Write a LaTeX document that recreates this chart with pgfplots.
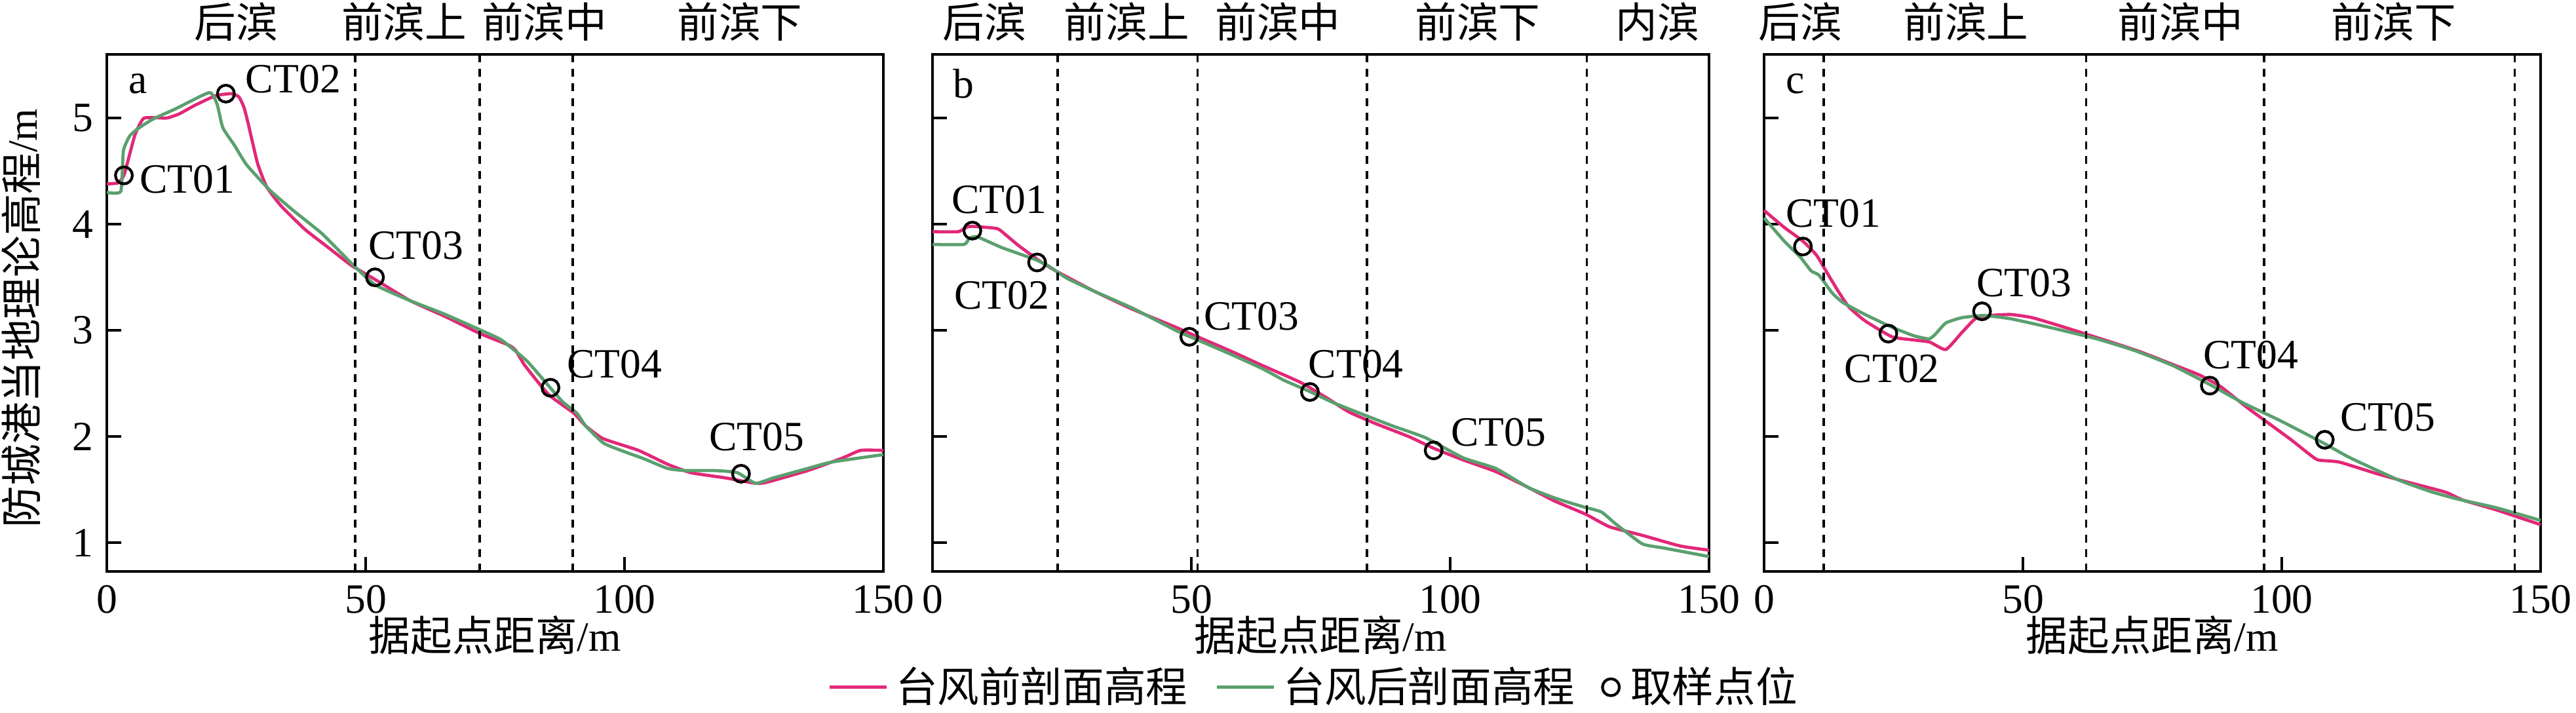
\documentclass[border=0pt]{standalone}
\usepackage{pgfplots}
\pgfplotsset{compat=1.18}
\usepackage{fontspec}
\setmainfont{Liberation Serif}
\newfontfamily\cjk{Noto Sans CJK SC}
\definecolor{cred}{RGB}{226,40,120}
\definecolor{cgreen}{RGB}{90,160,110}
\newcommand{\fs}{\fontsize{10.6}{12}\selectfont}
\tikzset{zone/.style={black, line width=0.6pt, dash pattern=on 2pt off 1.7pt}}
\pgfplotsset{
  panel/.style={
    width=197.5pt, height=131.5pt, scale only axis,
    xmin=0, xmax=150, ymin=0.73, ymax=5.6,
    xtick={0,50,100,150}, ytick={1,2,3,4,5},
    tick pos=left, tick align=inside, major tick length=3.7pt,
    axis line style={line width=0.65pt},
    every tick/.style={black, line width=0.65pt},
    /pgf/number format/assume math mode=true,
    tick label style={font=\fs},
    label style={font=\fs},
    xlabel={{\cjk 据起点距离}/m},
    xlabel style={at={(axis description cs:0.5,-0.124)}, anchor=center},
    clip=false,
  },
  redline/.style={color=cred, line width=0.8pt, smooth, tension=0.3},
  greenline/.style={color=cgreen, line width=0.8pt, smooth, tension=0.3},
  samp/.style={only marks, mark=o, mark size=2.15pt, mark options={line width=0.7pt, black}},
  lineleg/.style={legend image code/.code={\draw[##1] (0pt,0pt) -- (14.5pt,0pt);}},
  markleg/.style={legend image code/.code={\draw[##1] plot coordinates {(2pt,0pt)}; \path[draw=none] (5pt,0pt);}},
}
\begin{document}
\begin{tikzpicture}
% ---------------- panel a ----------------
\begin{axis}[panel, at={(27.17pt,36pt)}, anchor=south west,
  ylabel={{\cjk 防城港当地理论高程}/m},
  ylabel style={at={(axis description cs:-0.1104,0.49)}, anchor=center}]
\addplot[redline] coordinates {(0,4.38) (2.2,4.39) (3.3,4.46) (4.2,4.62) (5.5,4.85) (7.2,5.0) (11.5,5.0) (14,5.04) (17,5.12) (21,5.21) (24,5.23) (25.5,5.2) (26.5,5.1) (27.3,4.95) (28.1,4.78) (29.2,4.56) (30.9,4.35) (33.7,4.17) (38.3,3.95) (42.8,3.78) (47.3,3.61) (51.8,3.48) (58.6,3.28) (65.4,3.13) (72.1,2.97) (77.7,2.86) (79,2.81) (80.6,2.68) (83.5,2.5) (85.7,2.38) (90.2,2.22) (92.5,2.1) (95.9,1.98) (102.7,1.87) (108.3,1.74) (112.8,1.66) (119.6,1.61) (125.3,1.56) (127.5,1.57) (135.4,1.68) (142.2,1.80) (145.6,1.87) (150,1.87)};
\addplot[greenline] coordinates {(0,4.30) (2.7,4.31) (3.2,4.69) (4.4,4.83) (6,4.90) (8.9,4.99) (13.4,5.09) (19.8,5.24) (21.3,5.13) (22.4,4.91) (24.7,4.74) (27,4.56) (31.5,4.32) (36,4.13) (41.6,3.91) (47.3,3.63) (51.8,3.43) (58.6,3.28) (65.4,3.15) (75.5,2.93) (77.8,2.85) (81.2,2.71) (84.6,2.52) (88,2.33) (90.8,2.22) (92.5,2.1) (95.9,1.94) (99.3,1.87) (103.8,1.79) (108.3,1.70) (111.7,1.68) (117.4,1.68) (121.8,1.66) (125.3,1.56) (128.7,1.61) (135.4,1.70) (140,1.76) (150,1.83)};
\addplot[samp] coordinates {(3.3,4.46) (23,5.23) (51.8,3.50) (85.7,2.46) (122.5,1.65)};
\draw[zone] (axis cs:48,0.73) -- (axis cs:48,5.6);
\draw[zone] (axis cs:72,0.73) -- (axis cs:72,5.6);
\draw[zone] (axis cs:90,0.73) -- (axis cs:90,5.6);
\node[font=\fs] at (axis cs:15.5,4.42) {CT01};
\node[font=\fs] at (axis cs:36,5.37) {CT02};
\node[font=\fs] at (axis cs:59.7,3.80) {CT03};
\node[font=\fs] at (axis cs:98.1,2.68) {CT04};
\node[font=\fs] at (axis cs:125.5,2.0) {CT05};
\node[font=\fs] at (axis description cs:0.04,0.943) {a};
\node[font=\fs\cjk, yshift=8.3pt] at (axis cs:25,5.6) {后滨};
\node[font=\fs\cjk, yshift=8.3pt] at (axis cs:57.4,5.6) {前滨上};
\node[font=\fs\cjk, yshift=8.3pt] at (axis cs:84.5,5.6) {前滨中};
\node[font=\fs\cjk, yshift=8.3pt] at (axis cs:122.3,5.6) {前滨下};
\end{axis}
% ---------------- panel b ----------------
\begin{axis}[panel, at={(237.17pt,36pt)}, anchor=south west, yticklabels={},
  legend columns=3,
  legend style={at={(0.4945,-0.224)}, anchor=center, draw=none, fill=none, font=\fs\cjk,
    /tikz/every even column/.append style={column sep=5pt}},
  legend cell align=left]
\addplot[redline, lineleg] coordinates {(0,3.93) (5,3.93) (7.1,3.98) (12.4,3.96) (13.9,3.91) (16.6,3.80) (20.8,3.65) (24.2,3.55) (31.2,3.37) (38.6,3.20) (47,3.03) (51.2,2.94) (57.4,2.81) (63.7,2.67) (71.1,2.51) (76.3,2.36) (80.5,2.23) (85.7,2.12) (92,2.00) (96.8,1.89) (102.5,1.78) (108.8,1.67) (115.1,1.52) (120.3,1.39) (126.1,1.27) (130.8,1.15) (137.1,1.07) (144.4,0.97) (150,0.93)};
\addlegendentry{台风前剖面高程}
\addplot[greenline, lineleg] coordinates {(0,3.81) (6.1,3.81) (7.1,3.87) (8.7,3.88) (13.4,3.78) (19.7,3.67) (22.3,3.61) (26,3.49) (31.2,3.37) (38.6,3.21) (47,3.00) (51.2,2.91) (57.4,2.78) (63.7,2.64) (67.9,2.53) (72.6,2.43) (77.4,2.32) (83.6,2.20) (88.9,2.10) (95.2,1.99) (102.5,1.80) (108.8,1.70) (115.1,1.52) (120.3,1.42) (125.6,1.34) (129.2,1.29) (131.9,1.18) (137.1,0.99) (141.3,0.95) (150,0.87)};
\addlegendentry{台风后剖面高程}
\addplot[samp, markleg] coordinates {(7.7,3.94) (20.2,3.64) (49.6,2.94) (72.9,2.42) (96.8,1.87)};
\addlegendentry{取样点位}
\draw[zone] (axis cs:24.2,0.73) -- (axis cs:24.2,5.6);
\draw[zone] (axis cs:51.2,0.73) -- (axis cs:51.2,5.6);
\draw[zone] (axis cs:83.9,0.73) -- (axis cs:83.9,5.6);
\draw[zone] (axis cs:126.4,0.73) -- (axis cs:126.4,5.6);
\node[font=\fs] at (axis cs:12.9,4.23) {CT01};
\node[font=\fs] at (axis cs:13.4,3.33) {CT02};
\node[font=\fs] at (axis cs:61.6,3.13) {CT03};
\node[font=\fs] at (axis cs:81.8,2.68) {CT04};
\node[font=\fs] at (axis cs:109.3,2.04) {CT05};
\node[font=\fs] at (axis description cs:0.04,0.943) {b};
\node[font=\fs\cjk, yshift=8.3pt] at (axis cs:10,5.6) {后滨};
\node[font=\fs\cjk, yshift=8.3pt] at (axis cs:37.5,5.6) {前滨上};
\node[font=\fs\cjk, yshift=8.3pt] at (axis cs:66.7,5.6) {前滨中};
\node[font=\fs\cjk, yshift=8.3pt] at (axis cs:105.3,5.6) {前滨下};
\node[font=\fs\cjk, yshift=8.3pt] at (axis cs:140,5.6) {内滨};
\end{axis}
% ---------------- panel c ----------------
\begin{axis}[panel, at={(448.67pt,36pt)}, anchor=south west, yticklabels={}]
\addplot[redline] coordinates {(0,4.13) (3.9,3.97) (7.5,3.84) (10.1,3.71) (12.2,3.54) (14.3,3.37) (16.4,3.22) (19.5,3.09) (24.7,2.94) (28.9,2.91) (32,2.89) (35.1,2.82) (38.2,2.98) (40.8,3.11) (43.4,3.14) (47.6,3.15) (51.8,3.12) (58,3.03) (66.4,2.90) (72.6,2.80) (78.9,2.68) (84.1,2.58) (88.2,2.47) (93.4,2.27) (97.6,2.12) (101.8,1.97) (104.9,1.85) (107,1.78) (111.1,1.76) (118.4,1.65) (123.6,1.58) (129.9,1.50) (132,1.47) (135.1,1.40) (141.4,1.31) (150,1.17)};
\addplot[greenline] coordinates {(0,4.06) (3.9,3.84) (7,3.69) (9.1,3.56) (10.6,3.52) (13.2,3.35) (15.3,3.26) (19.5,3.15) (24.7,3.03) (28.9,2.95) (31.8,2.92) (33,2.96) (35.1,3.07) (38.2,3.12) (42.4,3.14) (47.6,3.11) (55.9,3.02) (64.3,2.92) (71.6,2.81) (78.9,2.67) (86.1,2.49) (92.4,2.32) (99.7,2.15) (108,1.94) (113.2,1.80) (122.6,1.59) (128.9,1.48) (134.1,1.41) (141.4,1.33) (150,1.21)};
\addplot[samp] coordinates {(7.5,3.79) (24,2.97) (42.1,3.18) (86.1,2.48) (108.3,1.97)};
\draw[zone] (axis cs:11.5,0.73) -- (axis cs:11.5,5.6);
\draw[zone] (axis cs:62.2,0.73) -- (axis cs:62.2,5.6);
\draw[zone] (axis cs:96.6,0.73) -- (axis cs:96.6,5.6);
\draw[zone] (axis cs:145,0.73) -- (axis cs:145,5.6);
\node[font=\fs] at (axis cs:13.4,4.10) {CT01};
\node[font=\fs] at (axis cs:24.7,2.64) {CT02};
\node[font=\fs] at (axis cs:50.2,3.45) {CT03};
\node[font=\fs] at (axis cs:94,2.77) {CT04};
\node[font=\fs] at (axis cs:120.5,2.18) {CT05};
\node[font=\fs] at (axis description cs:0.04,0.943) {c};
\node[font=\fs\cjk, yshift=8.3pt] at (axis cs:7,5.6) {后滨};
\node[font=\fs\cjk, yshift=8.3pt] at (axis cs:39,5.6) {前滨上};
\node[font=\fs\cjk, yshift=8.3pt] at (axis cs:80.4,5.6) {前滨中};
\node[font=\fs\cjk, yshift=8.3pt] at (axis cs:121.6,5.6) {前滨下};
\end{axis}
\pgfresetboundingbox
\useasboundingbox (0,0) rectangle (655.17pt,181.33pt);
\end{tikzpicture}
\end{document}
